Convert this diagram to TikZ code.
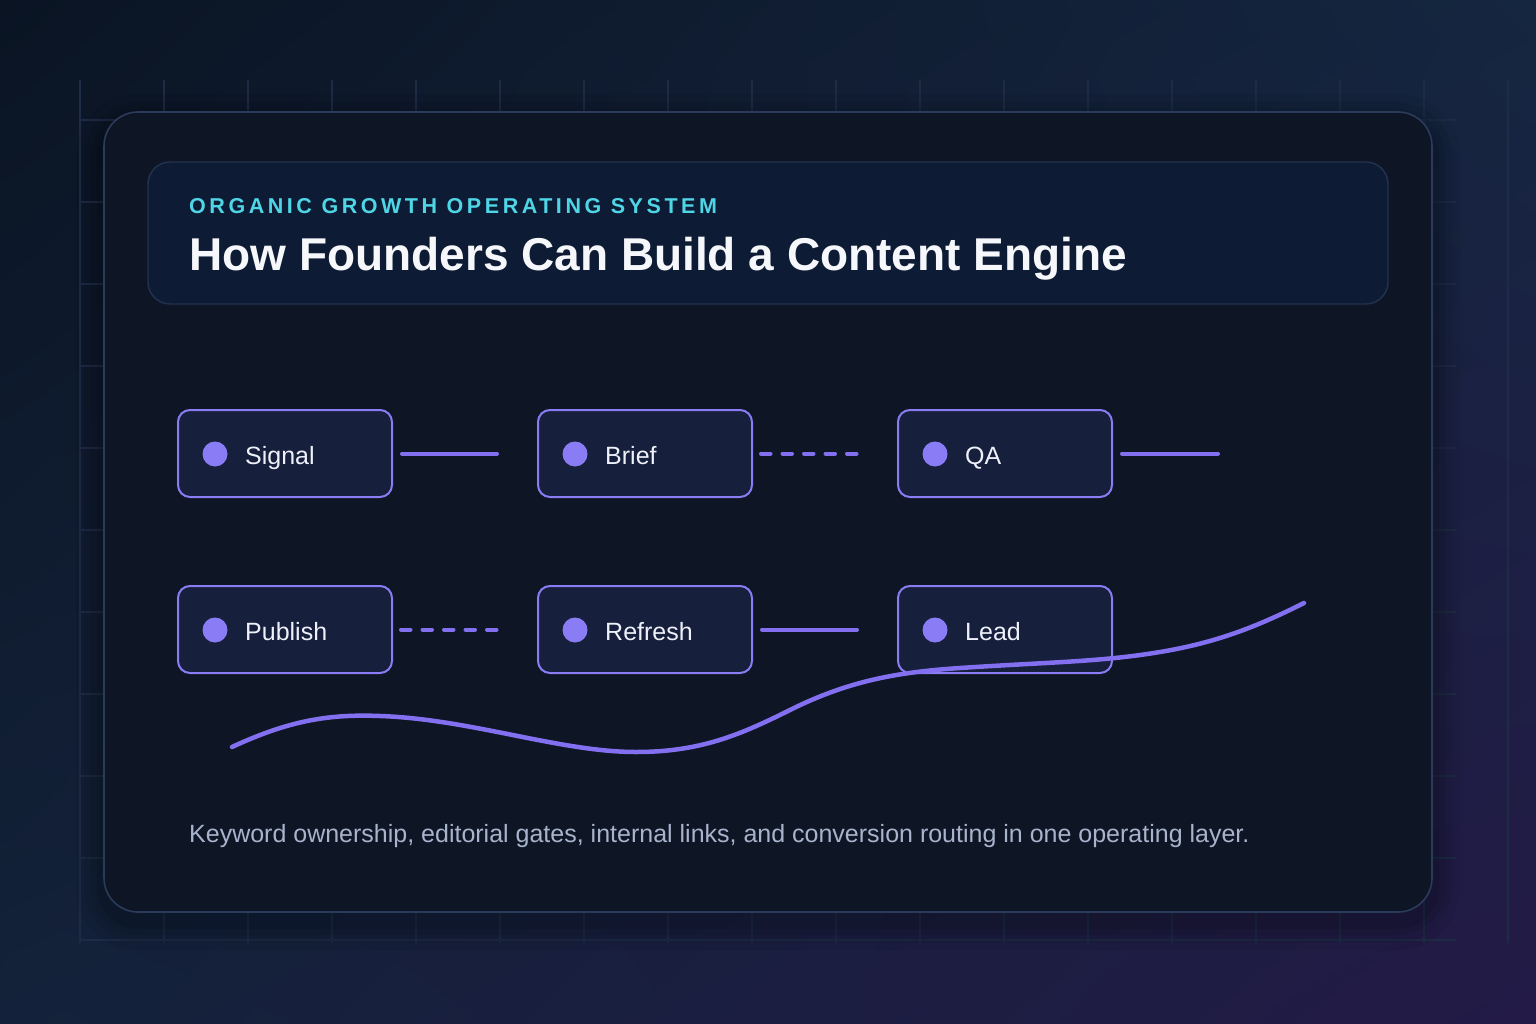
\documentclass[tikz,border=0pt]{standalone}
\usepackage{fontspec}
\usetikzlibrary{shadings}
\setmainfont{Liberation Sans}
\newfontfamily\kickerfont[LetterSpace=16.5]{Liberation Sans}
\definecolor{bgTL}{HTML}{0A1423}
\definecolor{bgTR}{HTML}{152640}
\definecolor{bgBL}{HTML}{13223A}
\definecolor{bgBR}{HTML}{231A47}
\definecolor{gridc}{HTML}{1D2B44}
\definecolor{cardfill}{HTML}{0E1525}
\definecolor{cardline}{HTML}{2B3B5A}
\definecolor{headfill}{HTML}{0E1B34}
\definecolor{headline}{HTML}{22324F}
\definecolor{nodefill}{HTML}{161F3B}
\definecolor{violet}{HTML}{8A7CF4}
\definecolor{linkc}{HTML}{8270F0}
\definecolor{kicker}{HTML}{4FD6E6}
\definecolor{titlec}{HTML}{F5F7FB}
\definecolor{footc}{HTML}{A8B3CC}
\definecolor{nodetext}{HTML}{EEF1FA}
\tikzset{
  stepbox/.style={draw=violet, line width=2pt, fill=nodefill, rounded corners=12pt,
    minimum width=214pt, minimum height=87pt, inner sep=0pt},
  dotmark/.style={circle, fill=violet, minimum size=25pt, inner sep=0pt},
  steplabel/.style={anchor=base west, text=nodetext, inner sep=0pt, font=\fontsize{25}{30}\selectfont},
  solidlink/.style={draw=linkc, line width=4pt, line cap=round},
  dashlink/.style={draw=linkc, line width=4pt, line cap=round, dash pattern=on 9.5pt off 12pt},
  gridline/.style={draw=gridc, line width=1.3pt},
}
\begin{document}
\begin{tikzpicture}[x=1pt, y=-1pt]
\useasboundingbox (0,0) rectangle (1536,1024);
% background
\shade[upper left=bgTL, upper right=bgTR, lower left=bgBL, lower right=bgBR] (0,0) rectangle (1536,1024);
% grid
\foreach \k in {0,...,17} { \draw[gridline] ({80+84*\k},80) -- ({80+84*\k},943); }
\foreach \k in {0,...,10} { \draw[gridline] (80,{120+82*\k}) -- (1456,{120+82*\k}); }
% card shadow
\foreach \d/\o in {28/0.05,20/0.06,13/0.07,7/0.08} {
  \fill[black, opacity=\o, rounded corners={34+\d}] ({104-\d},{112-\d+10}) rectangle ({1432+\d},{912+\d+10});
}
% card
\node[draw=cardline, line width=1.6pt, fill=cardfill, rounded corners=34pt,
  minimum width=1328pt, minimum height=800pt, inner sep=0pt] (card) at (768,512) {};
% header
\node[draw=headline, line width=1.4pt, fill=headfill, rounded corners=22pt,
  minimum width=1240pt, minimum height=142pt, inner sep=0pt] (header) at (768,233) {};
\node[anchor=base west, inner sep=0pt, text=kicker, font=\kickerfont\bfseries\fontsize{21.5}{26}\selectfont]
  (kick) at (189,214) {ORGANIC GROWTH OPERATING SYSTEM};
\node[anchor=base west, inner sep=0pt, text=titlec, font=\bfseries\fontsize{46}{54}\selectfont]
  (title) at (189,271) {How Founders Can Build a Content Engine};
% steps
\node[stepbox] (signal) at (285,453.5) {};
\node[stepbox] (brief) at (645,453.5) {};
\node[stepbox] (qa) at (1005,453.5) {};
\node[stepbox] (publish) at (285,629.5) {};
\node[stepbox] (refresh) at (645,629.5) {};
\node[stepbox] (lead) at (1005,629.5) {};
\foreach \n/\t in {signal/Signal, brief/Brief, qa/QA, publish/Publish, refresh/Refresh, lead/Lead} {
  \node[dotmark] (\n-dot) at ([xshift=38pt,yshift=-0.5pt]\n.west) {};
  \node[steplabel] (\n-lab) at ([xshift=68pt,yshift=-10.5pt]\n.west) {\t};
}
% connectors
\coordinate (qa-end) at (1218,453.5);
\draw[solidlink] ([xshift=9pt]signal.east) -- ([xshift=-40pt]brief.west);
\draw[dashlink] ([xshift=8pt]brief.east) -- ([xshift=-38pt]qa.west);
\draw[solidlink] ([xshift=9pt]qa.east) -- (qa-end);
\draw[dashlink] ([xshift=8pt]publish.east) -- ([xshift=-38pt]refresh.west);
\draw[solidlink] ([xshift=9pt]refresh.east) -- ([xshift=-40pt]lead.west);
% wave
\draw[draw=linkc, line width=4.5pt, line cap=round]
  (232,747) .. controls (290,720) and (330,714) .. (380,716)
  .. controls (470,719) and (560,752) .. (636,752)
  .. controls (700,752) and (740,735) .. (790,710)
  .. controls (850,680) and (900,672) .. (960,668)
  .. controls (1050,662) and (1100,662) .. (1160,652)
  .. controls (1220,642) and (1260,625) .. (1304,603);
% footer
\node[anchor=base west, inner sep=0pt, text=footc, font=\fontsize{25}{30}\selectfont]
  (foot) at (189,842) {Keyword ownership, editorial gates, internal links, and conversion routing in one operating layer.};
\end{tikzpicture}
\end{document}
